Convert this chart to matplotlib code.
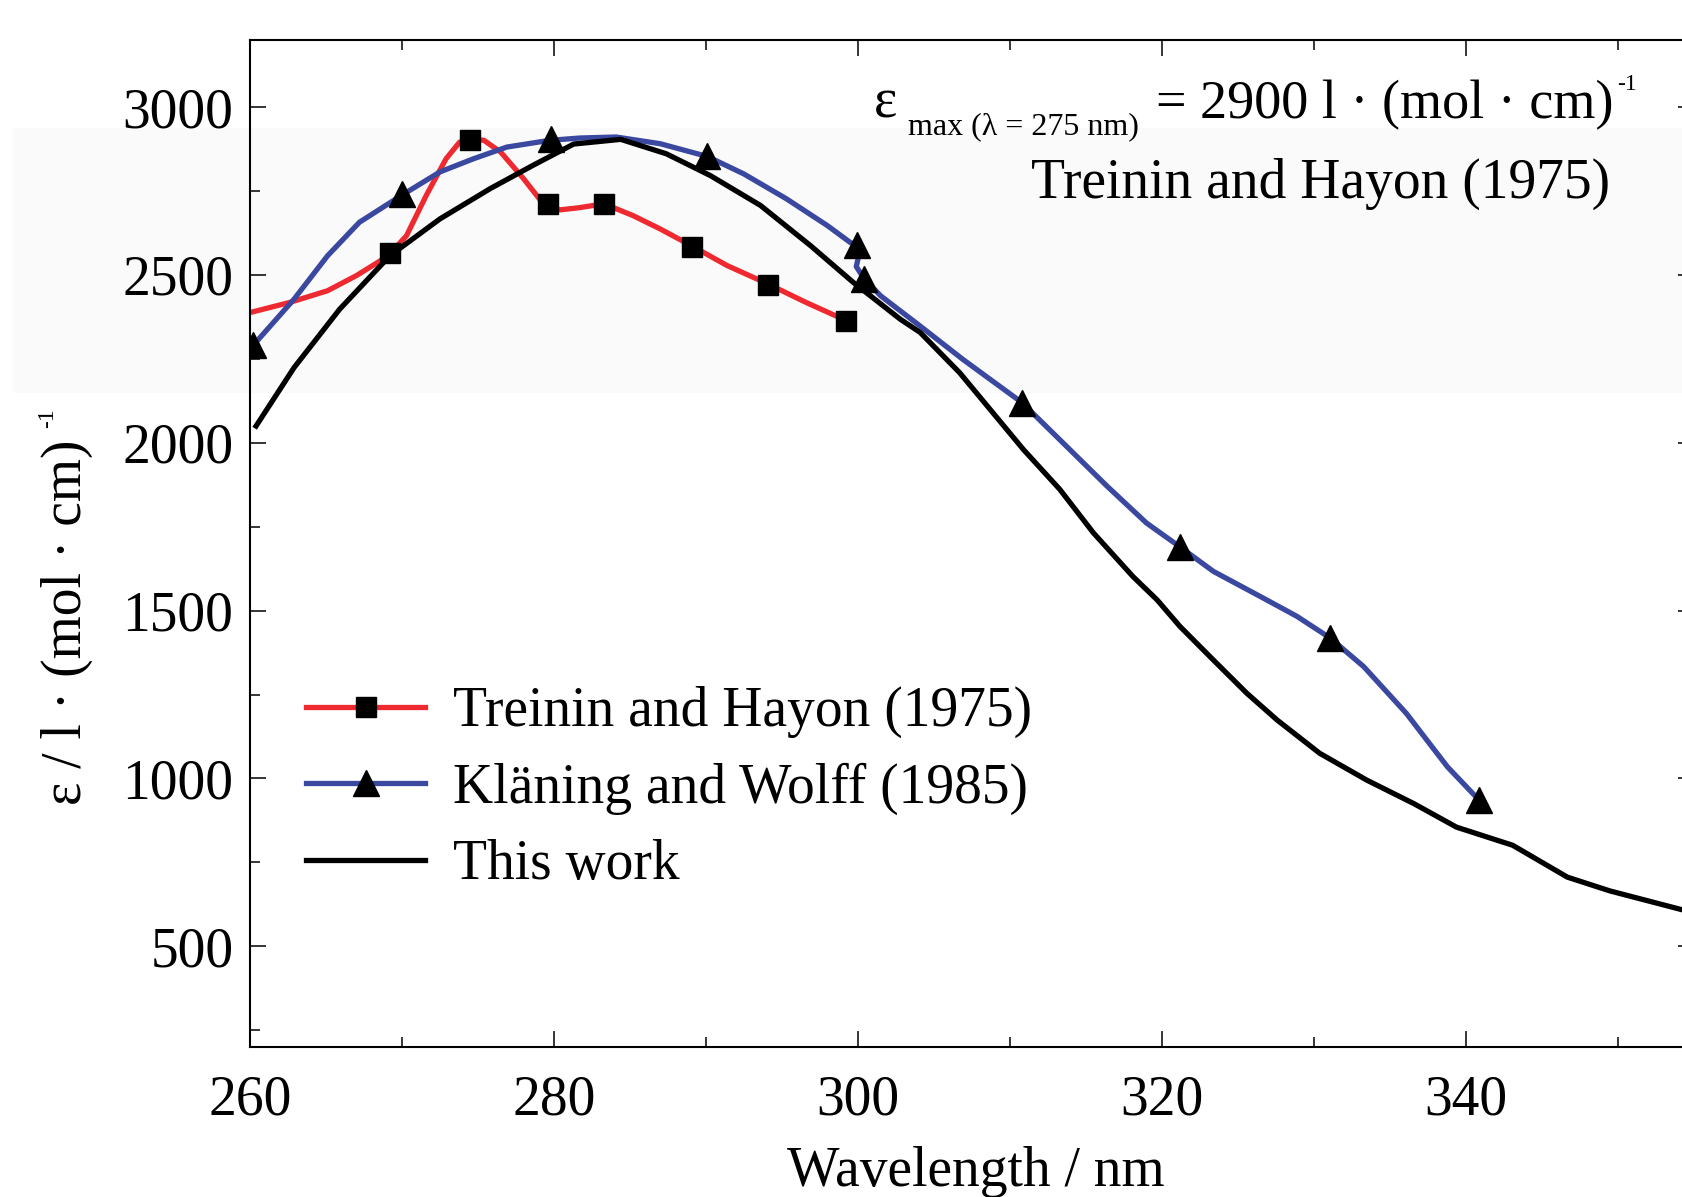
import numpy as np
import matplotlib
matplotlib.use("Agg")
import matplotlib.pyplot as plt
from matplotlib.patches import Rectangle

plt.rcParams['font.family'] = ['Liberation Serif', 'DejaVu Serif']

# Treinin and Hayon (1975) - measured points and the smoothed line through them
th_x = [269.2, 274.45, 279.6, 283.3, 289.1, 294.1, 299.25]
th_y = [2565, 2903, 2710, 2710, 2584, 2471, 2362]
th_curve_x = [260.0, 262.6, 265.1, 267.0, 268.6, 269.2, 270.3, 271.6, 272.9, 273.8,
              274.5, 275.4, 276.5, 278.0, 279.3, 280.4, 281.6, 283.3, 285.2, 287.0,
              289.1, 291.4, 294.1, 296.6, 299.3]
th_curve_y = [2388, 2418, 2453, 2498, 2543, 2563, 2617, 2737, 2846, 2896,
              2906, 2901, 2866, 2787, 2712, 2694, 2700, 2712, 2677, 2637,
              2586, 2528, 2473, 2418, 2363]

# Klaening and Wolff (1985)
kw_x = [260.2, 270.0, 279.8, 290.1, 299.95, 300.4, 310.8, 321.2, 331.1, 340.9]
kw_y = [2290, 2740, 2905, 2855, 2590, 2488, 2120, 1690, 1418, 935]
kw_curve_x = [260.3, 262.9, 265.1, 267.2, 269.9, 272.5, 274.7, 276.9, 279.7, 281.7,
              284.1, 287.0, 290.1, 292.5, 295.3, 298.0, 299.5, 299.95, 300.05, 299.9,
              300.4, 301.5, 304.1, 306.9, 310.8, 313.5, 316.4, 319.0, 321.2, 323.4,
              326.7, 328.9, 331.1, 333.3, 336.1, 338.8, 340.9]
kw_curve_y = [2295, 2428, 2557, 2657, 2735, 2807, 2846, 2881, 2901, 2908,
              2911, 2891, 2853, 2801, 2727, 2647, 2597, 2588, 2555, 2525,
              2490, 2438, 2348, 2249, 2120, 2000, 1871, 1761, 1690, 1617,
              1537, 1483, 1418, 1333, 1194, 1035, 935]

# This work
tw_x = [260.4, 262.9, 265.9, 269.2, 272.5, 275.8, 278.6, 281.3, 284.4, 287.4,
        290.3, 293.6, 296.9, 299.7, 302.8, 304.1, 306.7, 308.7, 310.9, 313.3,
        315.5, 318.1, 319.7, 321.2, 323.4, 325.6, 327.6, 330.4, 333.5, 336.6,
        339.4, 343.1, 346.7, 349.5, 355.0]
tw_y = [2050, 2224, 2398, 2557, 2667, 2757, 2826, 2890, 2904, 2861,
        2796, 2707, 2587, 2478, 2368, 2329, 2209, 2100, 1980, 1861,
        1732, 1602, 1532, 1453, 1353, 1254, 1174, 1075, 995, 925,
        855, 801, 706, 665, 600]

W, H = 1683, 1197
fig = plt.figure(figsize=(W / 100, H / 100), dpi=100)

# faint grey band from the scanned original
fig.patches.append(Rectangle((13 / W, 1 - 393 / H), 1 - 13 / W, (393 - 128) / H,
                             transform=fig.transFigure, facecolor='#fafafa',
                             edgecolor='none', zorder=-5))

ax = fig.add_axes([250 / W, 150 / H, 1443.5 / W, 1007 / H])
ax.set_facecolor('none')

red = '#ee2a30'
blue = '#3a48a0'
lw = 3.8

ax.plot(th_curve_x, th_curve_y, color=red, lw=lw, zorder=2)
ax.plot(th_x, th_y, ls='none', marker='s', ms=14.5, color='black', zorder=4)
ax.plot(kw_curve_x, kw_curve_y, color=blue, lw=lw, zorder=2)
ax.plot(kw_x, kw_y, ls='none', marker='^', ms=19, color='black', zorder=4)
ax.plot(tw_x, tw_y, color='black', lw=lw, zorder=3)

# legend proxies
h1, = ax.plot([], [], color=red, lw=lw, marker='s', ms=14.5, mfc='black', mec='black')
h2, = ax.plot([], [], color=blue, lw=lw, marker='^', ms=19, mfc='black', mec='black')
h3, = ax.plot([], [], color='black', lw=lw)
ax.legend([h1, h2, h3],
          ['Treinin and Hayon (1975)', 'Kläning and Wolff (1985)', 'This work'],
          loc='upper left', bbox_to_anchor=(306 / W, 1 - 686 / H),
          bbox_transform=fig.transFigure, frameon=False, fontsize=40,
          handlelength=2.15, handletextpad=0.5, labelspacing=0.44,
          borderpad=0, borderaxespad=0, numpoints=1)

ax.set_xlim(260, 355)
ax.set_ylim(200, 3200)
ax.set_xticks([260, 280, 300, 320, 340])
ax.set_xticks([270, 290, 310, 330, 350], minor=True)
ax.set_yticks([500, 1000, 1500, 2000, 2500, 3000])
ax.set_yticks(np.arange(250, 3200, 250), minor=True)
ax.tick_params(which='both', direction='in', top=True, right=True,
               labelsize=40, width=1.1)
ax.tick_params(which='major', length=11.5)
ax.tick_params(which='minor', length=7)
ax.tick_params(axis='x', pad=20)
ax.tick_params(axis='y', pad=12)
for s in ax.spines.values():
    s.set_linewidth(1.5)

def px(x, y):
    return x / W, 1 - y / H

fig.text(*px(976, 1186), 'Wavelength / nm', fontsize=40, ha='center', va='baseline')
fig.text(*px(67, 622), 'ε / l · (mol · cm)', fontsize=40,
         rotation=90, ha='center', va='center')
fig.text(*px(48, 418), '-1', fontsize=17, rotation=90, ha='center', va='center')

# annotation: eps_max(lambda = 275 nm) = 2900 l (mol cm)^-1
fig.text(*px(874, 118), 'ε', fontsize=40, ha='left', va='baseline')
fig.text(*px(908, 134), 'max (λ = 275 nm)', fontsize=23, ha='left', va='baseline')
fig.text(*px(1614, 118), '= 2900 l · (mol · cm)', fontsize=39, ha='right', va='baseline')
fig.text(*px(1617, 90), '-1', fontsize=17, ha='left', va='baseline')
fig.text(*px(1610, 198), 'Treinin and Hayon (1975)', fontsize=40,
         ha='right', va='baseline')

fig.savefig('out.png', dpi=100)
